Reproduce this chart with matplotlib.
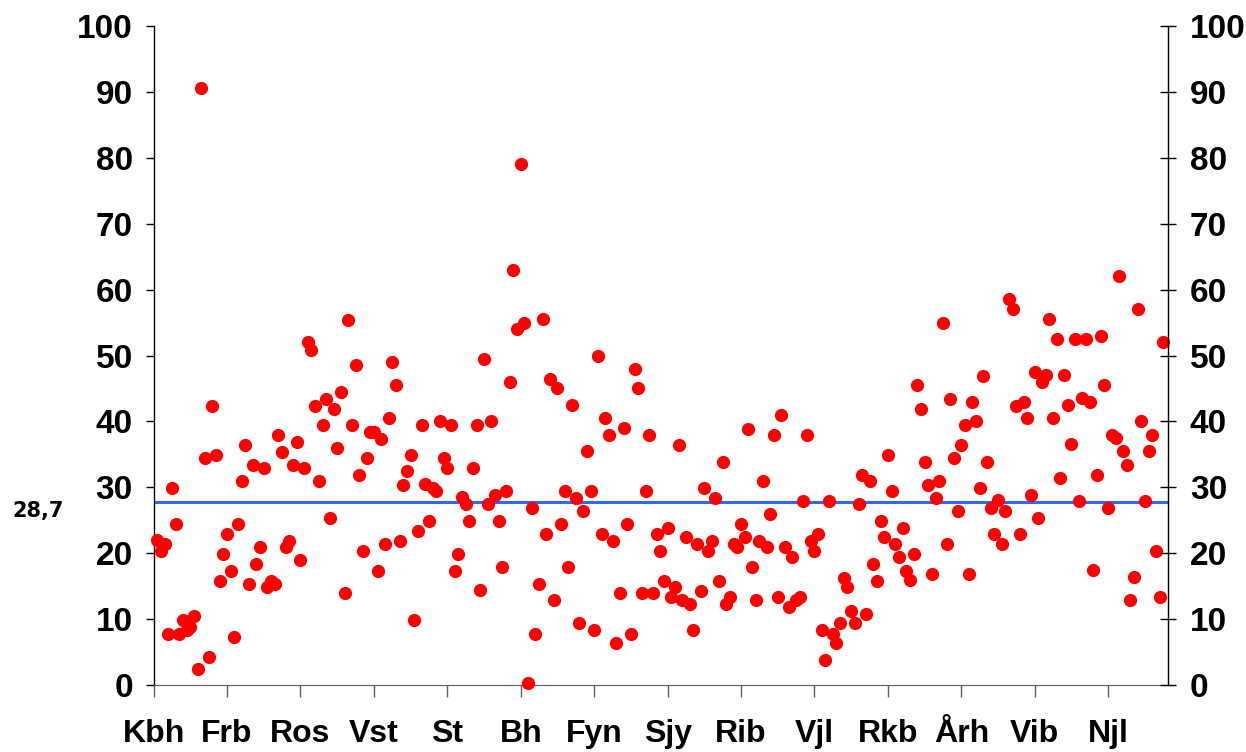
import numpy as np
import matplotlib
matplotlib.use('Agg')
import matplotlib.pyplot as plt

# counties, one label every 20 municipalities
regions = ['Kbh', 'Frb', 'Ros', 'Vst', 'St', 'Bh', 'Fyn', 'Sjy',
           'Rib', 'Vjl', 'Rkb', 'Årh', 'Vib', 'Njl']

# one value per municipality, in order along the x axis
values = [
    22.0, 20.4, 21.4, 7.8, 29.9, 24.4, 7.8, 9.9, 8.3, 8.8, 10.4, 2.4, 90.6, 34.4, 4.3,
    42.4, 34.9, 15.8, 19.9, 22.9, 17.3, 7.3, 24.4, 30.9, 36.4, 15.3, 33.4, 18.4, 20.9,
    32.9, 14.8, 15.8, 15.3, 37.9, 35.4,
    20.9, 21.9, 33.4, 36.9, 18.9, 32.9, 52.0, 50.9, 42.4, 30.9, 39.5, 43.4, 25.4, 41.9,
    35.9, 44.5, 13.9, 55.4, 39.5, 48.5, 31.9, 20.4, 34.4, 38.4, 38.4, 17.3, 37.4, 21.4,
    40.5, 49.0, 45.5, 21.9, 30.4,
    32.4, 34.9, 9.9, 23.4, 39.5, 30.5, 24.9, 29.9, 29.4, 40.0, 34.4, 32.9, 39.5, 17.3,
    19.9, 28.5, 27.4, 24.9, 32.9, 39.5, 14.4, 49.5, 27.4, 40.0, 28.9, 24.9, 17.9, 29.4,
    46.0, 63.0, 54.0, 79.1, 55.0,
    0.3, 26.9, 7.8, 15.4, 55.5, 22.9, 46.5, 12.9, 45.0, 24.4, 29.4, 17.9, 42.5, 28.4,
    9.4, 26.4, 35.5, 29.4, 8.3, 50.0, 22.9, 40.5, 37.9, 21.9, 6.3, 13.9, 39.0, 24.4,
    7.8, 48.0, 45.0, 13.9, 29.4, 37.9, 13.9, 22.9,
    20.4, 15.8, 23.9, 13.4, 14.8, 36.4, 12.9, 22.4, 12.3, 8.3, 21.4, 14.3, 29.9, 20.4,
    21.9, 28.4, 15.8, 33.9, 12.3, 13.4, 21.4, 20.9, 24.4, 22.4, 38.9, 17.9, 12.9, 21.9,
    30.9, 20.9, 25.9, 37.9, 13.4,
    40.9, 20.9, 11.8, 19.4, 12.9, 13.4, 27.9, 37.9, 21.9, 20.4, 22.9, 8.3, 3.8, 27.9,
    7.8, 6.3, 9.4, 16.3, 14.8, 11.3, 9.4, 27.4, 31.9, 10.8, 30.9, 18.4, 15.8, 24.9,
    22.4, 34.9, 29.4, 21.4, 19.4, 23.9,
    17.3, 15.9, 19.9, 45.5, 41.9, 33.9, 30.4, 16.9, 28.4, 30.9, 55.0, 21.4, 43.4, 34.4,
    26.4, 36.4, 39.5, 16.9, 42.9, 40.0, 29.9, 46.9, 33.9, 26.9, 22.9, 28.1, 21.4, 26.4,
    58.6, 57.0, 42.4, 22.9, 42.9, 40.5,
    28.9, 47.5, 25.4, 46.0, 47.0, 55.5, 40.5, 52.5, 31.4, 47.0, 42.5, 36.5, 52.5, 27.9,
    43.5, 52.5, 43.0, 17.4, 31.9, 53.0, 45.5, 26.9, 38.0, 37.5, 62.0, 35.5, 33.4, 12.9,
    16.4, 57.0, 40.0, 27.9, 35.5, 38.0, 20.4, 13.4, 52.0,
]

mean_line = 27.8
mean_label = '28,7'
yticks = list(range(0, 101, 10))

plt.rcParams['font.family'] = ['Liberation Sans', 'DejaVu Sans']
plt.rcParams['font.weight'] = 'bold'

fig = plt.figure(figsize=(12.46, 7.52), dpi=100)
ax = fig.add_axes([0.1233, 0.0891, 0.8141, 0.8763])

x = np.arange(1, len(values) + 1)
ax.plot(x, values, 'o', color='#ff0000', ms=9.5, mec='none', zorder=3, clip_on=False)
ax.axhline(mean_line, color='#3366f5', lw=2.2, zorder=2)

ax.set_xlim(0, 276.3)
ax.set_ylim(0, 100)
ax.set_xticks(np.arange(len(regions)) * 20)
ax.set_xticklabels(regions)
ax.set_yticks(yticks)

ax.spines['top'].set_visible(False)
ax.spines['right'].set_visible(False)
ax.spines['bottom'].set_color('#606060')
ax.spines['left'].set_linewidth(1.0)
ax.tick_params(axis='x', direction='out', length=8.6, width=1, color='#606060',
               pad=16, labelsize=23)
ax.tick_params(axis='y', direction='out', length=6, width=1, pad=9, labelsize=24)

ax2 = ax.twinx()
ax2.set_ylim(0, 100)
ax2.set_yticks(yticks)
for side in ['top', 'left', 'bottom']:
    ax2.spines[side].set_visible(False)
ax2.spines['right'].set_linewidth(1.0)
ax2.tick_params(axis='y', direction='inout', length=11.5, width=1, pad=10, labelsize=24)

fig.text(12 / 1246, 1 - 517 / 752, mean_label, fontsize=15, fontweight='bold',
         family=['DejaVu Sans'], va='baseline', ha='left')

fig.savefig('out.png', dpi=100)
